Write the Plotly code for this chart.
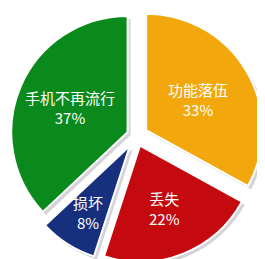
import math
import plotly.graph_objects as go

labels = ["功能落伍", "丢失", "损坏", "手机不再流行"]
values = [33, 22, 8, 37]
colors = ["#F2A80C", "#C40A0E", "#17307E", "#0A8A1C"]
pulls = [0.10, 0.09, 0.10, 0.08]
label_r = [0.52, 0.58, 0.68, 0.54]  # label distance (fraction of radius) from pulled slice tip

W, H = 265, 259
main_dom = dict(x=[0.0, 0.967], y=[0.012, 1.0])
shadow_dom = dict(x=[0.011, 0.978], y=[0.0, 0.988])

fig = go.Figure()
fig.add_trace(go.Pie(
    labels=labels, values=values, sort=False, direction="clockwise", rotation=0,
    pull=pulls, marker=dict(colors=["#D3D3D8"] * 4, line=dict(color="#FFFFFF", width=0)),
    textinfo="none", hoverinfo="skip", showlegend=False, domain=shadow_dom,
))
fig.add_trace(go.Pie(
    labels=labels, values=values, sort=False, direction="clockwise", rotation=0,
    pull=pulls, marker=dict(colors=colors, line=dict(color="#FFFFFF", width=2)),
    textinfo="none", showlegend=False, domain=main_dom,
))

# label positions derived from slice geometry
cx = (main_dom["x"][0] + main_dom["x"][1]) / 2 * W
cy = (main_dom["y"][0] + main_dom["y"][1]) / 2 * H
size = min((main_dom["x"][1] - main_dom["x"][0]) * W, (main_dom["y"][1] - main_dom["y"][0]) * H)
R = size / 2 / (1 + max(pulls))
total = sum(values)
cum = 0
annotations = []
for lab, v, p, f in zip(labels, values, pulls, label_r):
    mid = (cum + v / 2) / total * 2 * math.pi
    cum += v
    d = (p + f) * R
    x = cx + d * math.sin(mid)
    y = cy + d * math.cos(mid)
    pct = round(v / total * 100)
    annotations.append(dict(
        x=x / W, y=y / H, xref="paper", yref="paper", showarrow=False,
        xanchor="center", yanchor="middle",
        text=f"{lab}<br>{pct}%", align="center",
        font=dict(color="#FFFFFF", size=15, family="Noto Sans CJK SC"),
    ))

fig.update_layout(
    width=W, height=H, margin=dict(l=0, r=0, t=0, b=0),
    paper_bgcolor="#FFFFFF", plot_bgcolor="#FFFFFF",
    annotations=annotations,
)
fig.write_html("out.html")
